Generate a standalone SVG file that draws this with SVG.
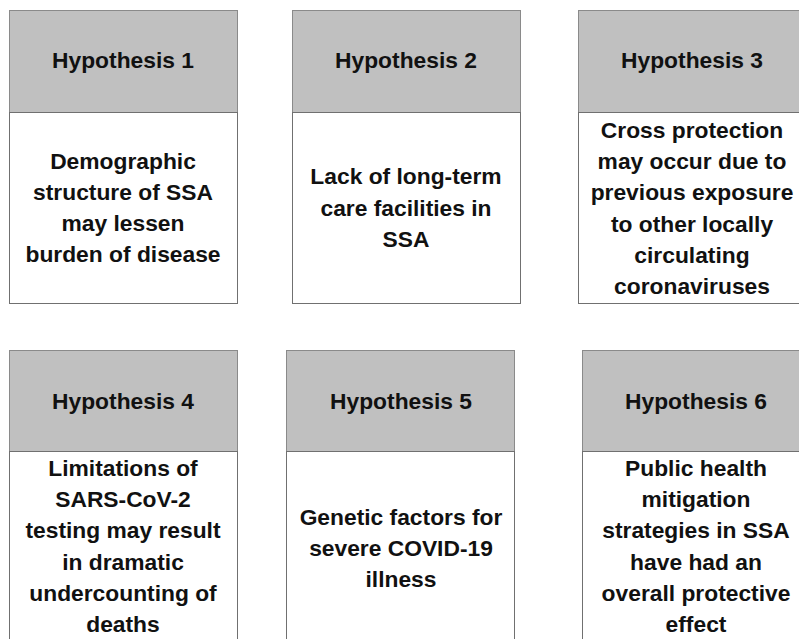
<svg xmlns="http://www.w3.org/2000/svg" width="799" height="639" viewBox="0 0 799 639">
<style>
.hd{fill:#c0c0c0;stroke:#8a8a8a;stroke-width:1}
.bd{fill:#ffffff;stroke:#707070;stroke-width:1}
text{font-family:"Liberation Sans",Arial,Helvetica,sans-serif;font-weight:bold;font-size:22.8px;fill:#111;text-anchor:middle}
</style>
<rect width="799" height="639" fill="#ffffff"/>
<g id="connectors"></g>
<g id="h1">
<rect class="hd" x="9.5" y="10.5" width="228" height="102"/>
<rect class="bd" x="9.5" y="112.5" width="228" height="191"/>
<text x="123" y="68">Hypothesis 1</text>
<text x="123" y="169"><tspan x="123">Demographic</tspan><tspan x="123" dy="31">structure of SSA</tspan><tspan x="123" dy="31">may lessen</tspan><tspan x="123" dy="31">burden of disease</tspan></text>
</g>
<g id="h2">
<rect class="hd" x="292.5" y="10.5" width="228" height="102"/>
<rect class="bd" x="292.5" y="112.5" width="228" height="191"/>
<text x="406" y="68">Hypothesis 2</text>
<text x="406" y="184"><tspan x="406">Lack of long-term</tspan><tspan x="406" dy="31.5">care facilities in</tspan><tspan x="406" dy="31.5">SSA</tspan></text>
</g>
<g id="h3">
<rect class="hd" x="578.5" y="10.5" width="228" height="102"/>
<rect class="bd" x="578.5" y="112.5" width="228" height="191"/>
<text x="692" y="68">Hypothesis 3</text>
<text x="692" y="138"><tspan x="692">Cross protection</tspan><tspan x="692" dy="31.2">may occur due to</tspan><tspan x="692" dy="31.2">previous exposure</tspan><tspan x="692" dy="31.2">to other locally</tspan><tspan x="692" dy="31.2">circulating</tspan><tspan x="692" dy="31.2">coronaviruses</tspan></text>
</g>
<g id="h4">
<rect class="hd" x="9.5" y="350.5" width="228" height="101"/>
<rect class="bd" x="9.5" y="451.5" width="228" height="200"/>
<text x="123" y="409">Hypothesis 4</text>
<text x="123" y="476"><tspan x="123">Limitations of</tspan><tspan x="123" dy="31.2">SARS-CoV-2</tspan><tspan x="123" dy="31.2">testing may result</tspan><tspan x="123" dy="31.2">in dramatic</tspan><tspan x="123" dy="31.2">undercounting of</tspan><tspan x="123" dy="31.2">deaths</tspan></text>
</g>
<g id="h5">
<rect class="hd" x="286.5" y="350.5" width="228" height="101"/>
<rect class="bd" x="286.5" y="451.5" width="228" height="200"/>
<text x="401" y="409">Hypothesis 5</text>
<text x="401" y="525"><tspan x="401">Genetic factors for</tspan><tspan x="401" dy="31">severe COVID-19</tspan><tspan x="401" dy="31">illness</tspan></text>
</g>
<g id="h6">
<rect class="hd" x="582.5" y="350.5" width="228" height="101"/>
<rect class="bd" x="582.5" y="451.5" width="228" height="200"/>
<text x="696" y="409">Hypothesis 6</text>
<text x="696" y="476"><tspan x="696">Public health</tspan><tspan x="696" dy="31.2">mitigation</tspan><tspan x="696" dy="31.2">strategies in SSA</tspan><tspan x="696" dy="31.2">have had an</tspan><tspan x="696" dy="31.2">overall protective</tspan><tspan x="696" dy="31.2">effect</tspan></text>
</g>
</svg>
